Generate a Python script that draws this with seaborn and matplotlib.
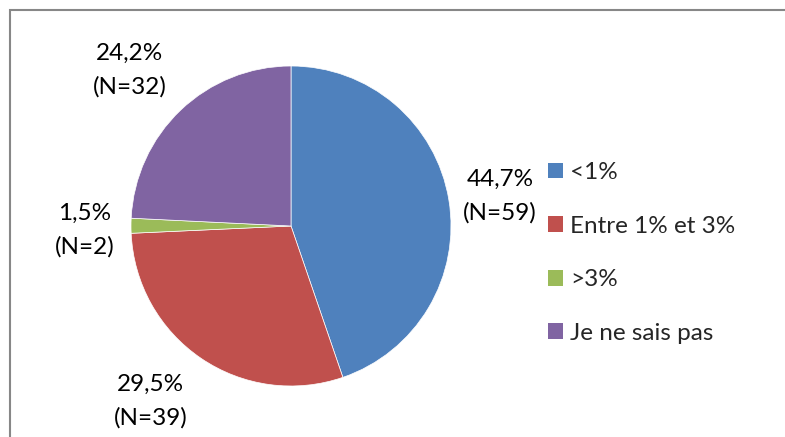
import matplotlib
matplotlib.use("Agg")
import matplotlib.pyplot as plt
import seaborn as sns
from matplotlib.patches import Patch, Rectangle
import numpy as np

sns.set_theme(style="white")
plt.rcParams['font.family'] = ['Lato', 'DejaVu Sans']

categories = ['<1%', 'Entre 1% et 3%', '>3%', 'Je ne sais pas']
percents = [44.7, 29.5, 1.5, 24.2]
counts = [59, 39, 2, 32]
colors = ['#4F81BD', '#C0504D', '#9BBB59', '#8064A2']

# label placement: distance from centre (radii) and angle nudge (deg)
label_dist = [1.32, 1.40, 1.29, 1.40]
label_turn = [-1.3, -4.5, 1.2, 2.5]

fig = plt.figure(figsize=(7.85, 4.37), dpi=100)
fig.patch.set_facecolor('white')

# chart frame (open at right and bottom, as cropped in the reference)
fig.add_artist(Rectangle((10 / 785, -0.1), 1.2, (437 - 10) / 437 + 0.1,
                         transform=fig.transFigure, fill=False,
                         edgecolor='#878787', linewidth=1.5))

ax = fig.add_axes([131 / 785, 51 / 437, 320 / 785, 320 / 437])
wedges, _ = ax.pie(percents, colors=colors, startangle=90, counterclock=False,
                   radius=1.0, wedgeprops=dict(edgecolor='white', linewidth=0.5))
ax.set_xlim(-1, 1)
ax.set_ylim(-1, 1)
ax.set_aspect('equal')
ax.axis('off')

for w, p, n, d, t in zip(wedges, percents, counts, label_dist, label_turn):
    ang = np.deg2rad((w.theta1 + w.theta2) / 2 + t)
    txt = f"{p:.1f}%".replace('.', ',') + f"\n(N={n})"
    ax.text(d * np.cos(ang), d * np.sin(ang), txt, ha='center', va='center',
            fontsize=17.5, color='black', linespacing=1.7, clip_on=False)

handles = [Patch(facecolor=c, edgecolor='none') for c in colors]
fig.legend(handles, categories, loc='center left', bbox_to_anchor=(526 / 785, (437 - 253) / 437),
           frameon=False, fontsize=17.5, handlelength=0.62, handleheight=0.62,
           handletextpad=0.3, labelspacing=1.34)

fig.savefig('out.png', dpi=100, facecolor='white')
